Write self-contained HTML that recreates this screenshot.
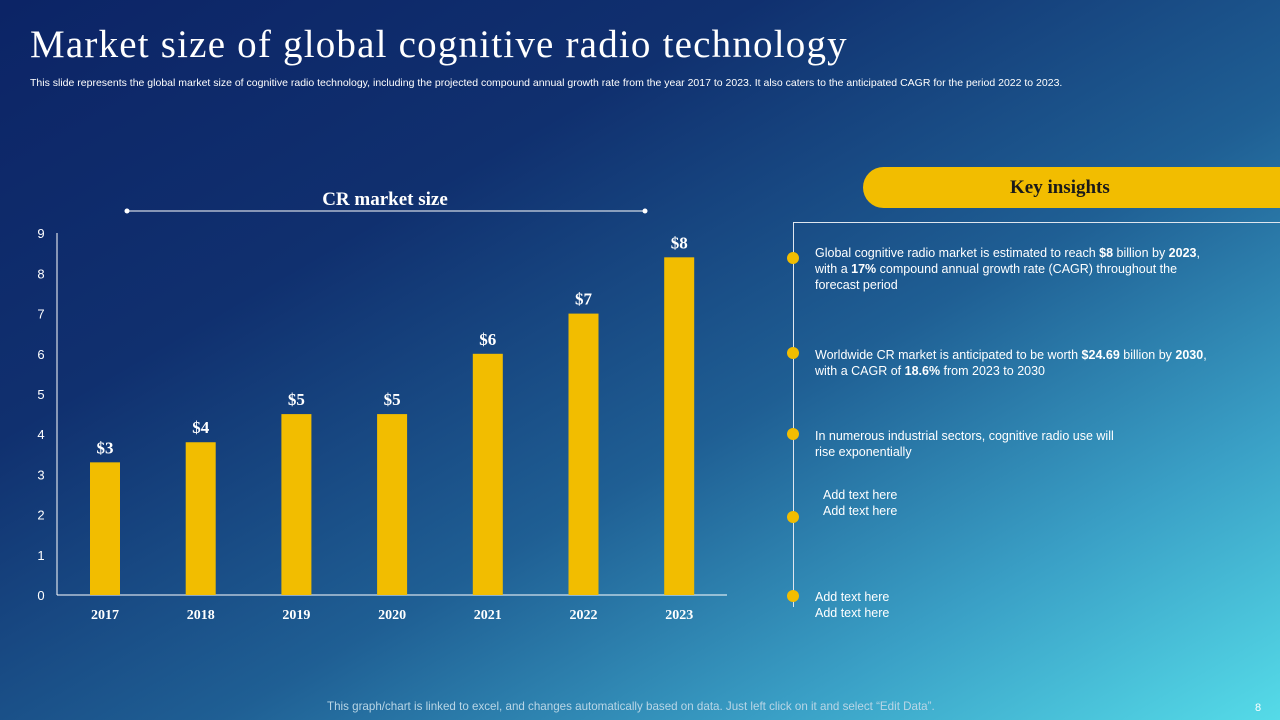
<!DOCTYPE html>
<html><head><meta charset="utf-8"><style>
body{margin:0;width:1280px;height:720px;overflow:hidden;font-family:"Liberation Sans",sans-serif;}
#bg{position:absolute;left:0;top:0;width:1280px;height:720px;background:linear-gradient(150deg,#0c2466 0%,#10306f 30%,#1f5f94 58%,#3aa0c6 80%,#55dbe8 100%);}
.t{position:absolute;color:#fff;}
</style></head><body>
<div id="bg"></div>
<div class="t" style="left:30px;top:22px;font-family:'Liberation Serif',serif;font-size:39px;letter-spacing:1.2px;">Market size of global cognitive radio technology</div>
<div class="t" style="left:30px;top:77px;font-size:10.5px;letter-spacing:0px;">This slide represents the global market size of cognitive radio technology, including the projected compound annual growth rate from the year 2017 to 2023. It also caters to the anticipated CAGR for the period 2022 to 2023.</div>
<svg id="chart" width="1280" height="720" style="position:absolute;left:0;top:0"></svg>
<div style="position:absolute;left:863px;top:167px;width:417px;height:41px;background:#f2bd00;border-radius:21px 0 0 21px;"></div>
<div class="t" style="left:1010px;top:177px;font-family:'Liberation Serif',serif;font-weight:bold;font-size:19px;color:#1a1a1a;">Key insights</div>
<div style="position:absolute;left:793px;top:222px;width:487px;height:1px;background:#dfe6ef;"></div>
<div style="position:absolute;left:793px;top:222px;width:1px;height:385px;background:#dfe6ef;"></div>
<div style="position:absolute;left:787px;top:252px;width:12px;height:12px;border-radius:6px;background:#f2bd00"></div>
<div style="position:absolute;left:787px;top:347px;width:12px;height:12px;border-radius:6px;background:#f2bd00"></div>
<div style="position:absolute;left:787px;top:428px;width:12px;height:12px;border-radius:6px;background:#f2bd00"></div>
<div style="position:absolute;left:787px;top:511px;width:12px;height:12px;border-radius:6px;background:#f2bd00"></div>
<div style="position:absolute;left:787px;top:590px;width:12px;height:12px;border-radius:6px;background:#f2bd00"></div>
<div class="t" style="left:815px;top:245px;font-size:12.5px;line-height:16px;width:400px;">Global cognitive radio market is estimated to reach <b>$8</b> billion by <b>2023</b>, with a <b>17%</b> compound annual growth rate (CAGR) throughout the forecast period</div>
<div class="t" style="left:815px;top:347px;font-size:12.5px;line-height:16px;width:412px;">Worldwide CR market is anticipated to be worth <b>$24.69</b> billion by <b>2030</b>, with a CAGR of <b>18.6%</b> from 2023 to 2030</div>
<div class="t" style="left:815px;top:428px;font-size:12.5px;line-height:16px;width:320px;">In numerous industrial sectors, cognitive radio use will rise exponentially</div>
<div class="t" style="left:823px;top:487px;font-size:12.5px;line-height:16px;">Add text here<br>Add text here</div>
<div class="t" style="left:815px;top:589px;font-size:12.5px;line-height:16px;">Add text here<br>Add text here</div>
<div class="t" style="left:327px;top:700px;font-size:11.6px;color:#b9d6e6;">This graph/chart is linked to excel, and changes automatically based on data. Just left click on it and select “Edit Data”.</div>
<div class="t" style="left:1255px;top:702px;font-size:11px;">8</div>
<script>
const categories=["2017","2018","2019","2020","2021","2022","2023"];
const values=[3.3,3.8,4.5,4.5,6.0,7.0,8.4];
const valueLabels=["$3","$4","$5","$5","$6","$7","$8"];
const yTicks=[0,1,2,3,4,5,6,7,8,9];
const NS="http://www.w3.org/2000/svg";
const svg=document.getElementById('chart');
const y=v=>595-v*40.2;
const x=i=>105+i*95.7;
function mk(t,a,txt){const e=document.createElementNS(NS,t);for(const k in a)e.setAttribute(k,a[k]);if(txt!==undefined)e.textContent=txt;svg.appendChild(e);return e;}
let e;
e=mk('text',{x:385,y:205,'text-anchor':'middle',fill:'#fff','font-family':'Liberation Serif,serif','font-weight':'bold','font-size':19},'CR market size');


e=mk('line',{x1:127,y1:211,x2:645,y2:211,stroke:'#fff','stroke-width':1});


mk('circle',{cx:127,cy:211,r:2.5,fill:'#fff'});mk('circle',{cx:645,cy:211,r:2.5,fill:'#fff'});
e=mk('line',{x1:57,y1:233,x2:57,y2:595,stroke:'#fff','stroke-width':1});


e=mk('line',{x1:57,y1:595,x2:727,y2:595,stroke:'#fff','stroke-width':1});


yTicks.forEach(t=>{e=mk('text',{x:41,y:y(t)+5,'text-anchor':'middle',fill:'#fff','font-size':13},String(t));

});
categories.forEach((c,i)=>{
e=mk('rect',{x:x(i)-15,y:y(values[i]),width:30,height:595-y(values[i]),fill:'#f2bd00'});


e=mk('text',{x:x(i),y:y(values[i])-9,'text-anchor':'middle',fill:'#fff','font-family':'Liberation Serif,serif','font-weight':'bold','font-size':17},valueLabels[i]);


e=mk('text',{x:x(i),y:619,'text-anchor':'middle',fill:'#fff','font-family':'Liberation Serif,serif','font-weight':'bold','font-size':14},c);


});
</script>
</body></html>
